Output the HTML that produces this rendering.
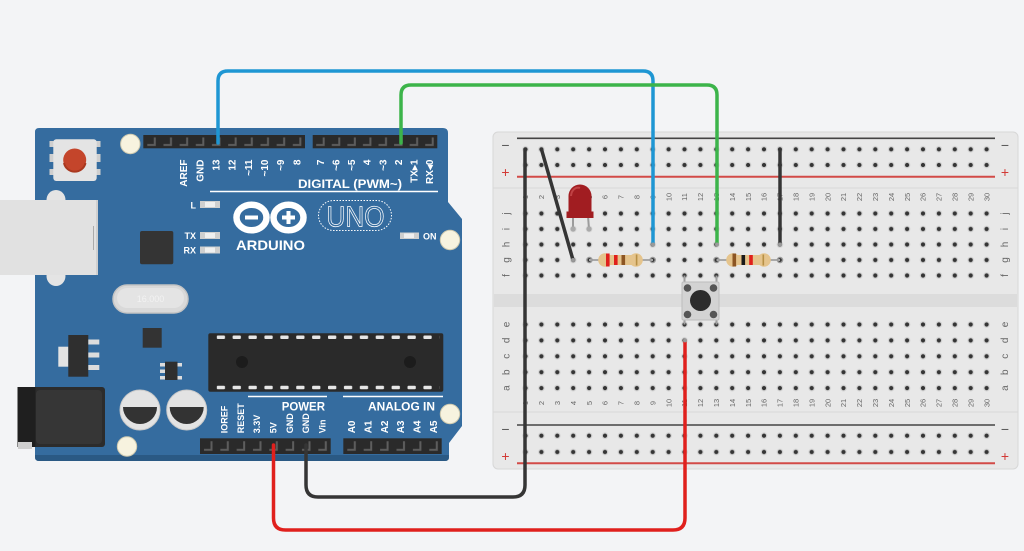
<!DOCTYPE html>
<html><head><meta charset="utf-8"><style>
html,body{margin:0;padding:0;background:#f3f4f6;}
svg{display:block;font-family:"Liberation Sans",sans-serif;}
</style></head><body>
<svg width="1024" height="551" viewBox="0 0 1024 551" xmlns="http://www.w3.org/2000/svg">
<defs>
<pattern id="p1" x="517.55" y="141.45" width="15.9" height="15.7" patternUnits="userSpaceOnUse"><circle cx="7.95" cy="7.85" r="3.3" fill="#d2d2d2"/><circle cx="7.95" cy="7.85" r="2.1" fill="#353535"/></pattern>
<pattern id="p2" x="517.55" y="205.75" width="15.9" height="15.5" patternUnits="userSpaceOnUse"><circle cx="7.95" cy="7.75" r="3.3" fill="#d2d2d2"/><circle cx="7.95" cy="7.75" r="2.1" fill="#353535"/></pattern>
<pattern id="p3" x="517.55" y="316.55" width="15.9" height="15.9" patternUnits="userSpaceOnUse"><circle cx="7.95" cy="7.95" r="3.3" fill="#d2d2d2"/><circle cx="7.95" cy="7.95" r="2.1" fill="#353535"/></pattern>
<pattern id="p4" x="517.55" y="427.55" width="15.9" height="16.3" patternUnits="userSpaceOnUse"><circle cx="7.95" cy="8.15" r="3.3" fill="#d2d2d2"/><circle cx="7.95" cy="8.15" r="2.1" fill="#353535"/></pattern>
<pattern id="h1" x="143.3" y="135" width="16.17" height="13.3" patternUnits="userSpaceOnUse"><rect width="16.17" height="13.3" fill="#2a2a2a"/><path d="M10.5 2.5 h2 v8.5 h-8.5 v-2 h6.5z" fill="#5e5e5e"/></pattern>
<pattern id="h2" x="312.7" y="135" width="15.575" height="13.3" patternUnits="userSpaceOnUse"><rect width="15.575" height="13.3" fill="#2a2a2a"/><path d="M10 2.5 h2 v8.5 h-8.5 v-2 h6.5z" fill="#5e5e5e"/></pattern>
<pattern id="h3" x="200" y="438.3" width="16.33" height="15.7" patternUnits="userSpaceOnUse"><rect width="16.33" height="15.7" fill="#2a2a2a"/><path d="M10.5 3 h2 v9.5 h-8.5 v-2 h6.5z" fill="#5e5e5e"/></pattern>
<pattern id="h4" x="343.3" y="438.3" width="16.4" height="15.7" patternUnits="userSpaceOnUse"><rect width="16.4" height="15.7" fill="#2a2a2a"/><path d="M10.5 3 h2 v9.5 h-8.5 v-2 h6.5z" fill="#5e5e5e"/></pattern>
<pattern id="cp" x="216.7" y="0" width="15.9" height="551" patternUnits="userSpaceOnUse"><rect x="0" y="335.5" width="8.3" height="3.5" rx="1" fill="#e6e6e6"/><rect x="0" y="385.8" width="8.3" height="3.5" rx="1" fill="#e6e6e6"/></pattern>
</defs>

<rect width="1024" height="551" fill="#f3f4f6"/>

<!-- ============ BREADBOARD ============ -->
<rect x="493" y="132" width="525" height="337" rx="5" fill="#e8e8e8" stroke="#d7d7d7"/>
<line x1="493" y1="188" x2="1018" y2="188" stroke="#d9d9d9"/>
<line x1="493" y1="412" x2="1018" y2="412" stroke="#d9d9d9"/>
<rect x="494" y="294" width="523" height="13" fill="#dcdcdc"/>
<line x1="517" y1="138.3" x2="995" y2="138.3" stroke="#444" stroke-width="1.6"/>
<line x1="517" y1="176.7" x2="995" y2="176.7" stroke="#d24a47" stroke-width="2"/>
<line x1="517" y1="425" x2="995" y2="425" stroke="#444" stroke-width="1.6"/>
<line x1="517" y1="463.3" x2="995" y2="463.3" stroke="#d24a47" stroke-width="2"/>
<g font-size="14" text-anchor="middle">
<text x="505.5" y="150" fill="#555">−</text>
<text x="505.5" y="177" fill="#d23a36">+</text>
<text x="1005" y="150" fill="#555">−</text>
<text x="1005" y="177" fill="#d23a36">+</text>
<text x="505.5" y="434" fill="#555">−</text>
<text x="505.5" y="461" fill="#d23a36">+</text>
<text x="1005" y="434" fill="#555">−</text>
<text x="1005" y="461" fill="#d23a36">+</text>
</g>
<rect x="517.55" y="141.45" width="477" height="31.4" fill="url(#p1)"/>
<rect x="517.55" y="205.75" width="477" height="77.5" fill="url(#p2)"/>
<rect x="517.55" y="316.55" width="477" height="79.5" fill="url(#p3)"/>
<rect x="517.55" y="427.55" width="477" height="32.6" fill="url(#p4)"/>

<!-- row letters -->
<g transform="rotate(-90)" font-size="10" fill="#666" text-anchor="middle">
<text><tspan x="-213.5" y="509.5">j</tspan><tspan x="-229" y="509.5">i</tspan><tspan x="-244.5" y="509.5">h</tspan><tspan x="-260" y="509.5">g</tspan><tspan x="-275.5" y="509.5">f</tspan><tspan x="-324.5" y="509.5">e</tspan><tspan x="-340.4" y="509.5">d</tspan><tspan x="-356.3" y="509.5">c</tspan><tspan x="-372.2" y="509.5">b</tspan><tspan x="-388.1" y="509.5">a</tspan></text>
<text><tspan x="-213.5" y="1008">j</tspan><tspan x="-229" y="1008">i</tspan><tspan x="-244.5" y="1008">h</tspan><tspan x="-260" y="1008">g</tspan><tspan x="-275.5" y="1008">f</tspan><tspan x="-324.5" y="1008">e</tspan><tspan x="-340.4" y="1008">d</tspan><tspan x="-356.3" y="1008">c</tspan><tspan x="-372.2" y="1008">b</tspan><tspan x="-388.1" y="1008">a</tspan></text>
</g>
<!-- column numbers -->
<g font-size="7.5" fill="#666" text-anchor="middle">
<g transform="translate(0,197) rotate(-90)"><text><tspan x="0" y="528.2">1</tspan><tspan x="0" y="544.1">2</tspan><tspan x="0" y="560">3</tspan><tspan x="0" y="575.9">4</tspan><tspan x="0" y="591.8">5</tspan><tspan x="0" y="607.7">6</tspan><tspan x="0" y="623.6">7</tspan><tspan x="0" y="639.5">8</tspan><tspan x="0" y="655.4">9</tspan><tspan x="0" y="671.3">10</tspan><tspan x="0" y="687.2">11</tspan><tspan x="0" y="703.1">12</tspan><tspan x="0" y="719">13</tspan><tspan x="0" y="734.9">14</tspan><tspan x="0" y="750.8">15</tspan><tspan x="0" y="766.7">16</tspan><tspan x="0" y="782.6">17</tspan><tspan x="0" y="798.5">18</tspan><tspan x="0" y="814.4">19</tspan><tspan x="0" y="830.3">20</tspan><tspan x="0" y="846.2">21</tspan><tspan x="0" y="862.1">22</tspan><tspan x="0" y="878">23</tspan><tspan x="0" y="893.9">24</tspan><tspan x="0" y="909.8">25</tspan><tspan x="0" y="925.7">26</tspan><tspan x="0" y="941.6">27</tspan><tspan x="0" y="957.5">28</tspan><tspan x="0" y="973.4">29</tspan><tspan x="0" y="989.3">30</tspan></text></g>
<g transform="translate(0,403) rotate(-90)"><text><tspan x="0" y="528.2">1</tspan><tspan x="0" y="544.1">2</tspan><tspan x="0" y="560">3</tspan><tspan x="0" y="575.9">4</tspan><tspan x="0" y="591.8">5</tspan><tspan x="0" y="607.7">6</tspan><tspan x="0" y="623.6">7</tspan><tspan x="0" y="639.5">8</tspan><tspan x="0" y="655.4">9</tspan><tspan x="0" y="671.3">10</tspan><tspan x="0" y="687.2">11</tspan><tspan x="0" y="703.1">12</tspan><tspan x="0" y="719">13</tspan><tspan x="0" y="734.9">14</tspan><tspan x="0" y="750.8">15</tspan><tspan x="0" y="766.7">16</tspan><tspan x="0" y="782.6">17</tspan><tspan x="0" y="798.5">18</tspan><tspan x="0" y="814.4">19</tspan><tspan x="0" y="830.3">20</tspan><tspan x="0" y="846.2">21</tspan><tspan x="0" y="862.1">22</tspan><tspan x="0" y="878">23</tspan><tspan x="0" y="893.9">24</tspan><tspan x="0" y="909.8">25</tspan><tspan x="0" y="925.7">26</tspan><tspan x="0" y="941.6">27</tspan><tspan x="0" y="957.5">28</tspan><tspan x="0" y="973.4">29</tspan><tspan x="0" y="989.3">30</tspan></text></g>
</g>

<!-- LED -->
<line x1="573" y1="216" x2="573" y2="229" stroke="#9c9c9c" stroke-width="2"/>
<line x1="588" y1="216" x2="589" y2="229" stroke="#9c9c9c" stroke-width="2"/>
<circle cx="573" cy="229" r="2.5" fill="#aaa"/>
<circle cx="589" cy="229" r="2.5" fill="#aaa"/>
<path d="M566.5 218 L566.5 211.5 L568.5 211.5 L568.5 196 A11.5 11.5 0 0 1 591.5 196 L591.5 211.5 L593.5 211.5 L593.5 218 Z" fill="#a11d21"/>
<path d="M571 196 A7 9 0 0 1 580 188" stroke="#c04244" stroke-width="2" fill="none"/>

<!-- Resistor 1 -->
<line x1="589" y1="260" x2="653" y2="260" stroke="#a8a8a8" stroke-width="2"/>
<circle cx="589.5" cy="260" r="2.6" fill="none" stroke="#9a9a9a" stroke-width="1.3"/>
<circle cx="652.7" cy="260" r="2.6" fill="none" stroke="#9a9a9a" stroke-width="1.3"/>
<circle cx="605" cy="260" r="6.8" fill="#e5c48c"/>
<circle cx="636" cy="260" r="6.8" fill="#e5c48c"/>
<rect x="605" y="255" width="31" height="10" fill="#e5c48c"/>
<rect x="606" y="253.5" width="3.6" height="13" fill="#e0201c"/>
<rect x="614" y="255" width="3.6" height="10" fill="#e0201c"/>
<rect x="621.5" y="255" width="3.6" height="10" fill="#8c5523"/>
<rect x="635.8" y="254.5" width="1.6" height="11" fill="#b79045"/>

<!-- Resistor 2 -->
<line x1="716.5" y1="260" x2="780" y2="260" stroke="#a8a8a8" stroke-width="2"/>
<circle cx="716.5" cy="260" r="2.6" fill="none" stroke="#9a9a9a" stroke-width="1.3"/>
<circle cx="780" cy="260" r="2.6" fill="none" stroke="#9a9a9a" stroke-width="1.3"/>
<circle cx="733" cy="260" r="6.8" fill="#e5c48c"/>
<circle cx="764" cy="260" r="6.8" fill="#e5c48c"/>
<rect x="733" y="255" width="31" height="10" fill="#e5c48c"/>
<rect x="732.5" y="253.5" width="3.6" height="13" fill="#8c5523"/>
<rect x="741.5" y="255" width="3.6" height="10" fill="#1a1a1a"/>
<rect x="749.2" y="255" width="3.6" height="10" fill="#e0201c"/>
<rect x="762.5" y="254.5" width="1.6" height="11" fill="#b79045"/>

<!-- Push button -->
<line x1="684.5" y1="275.5" x2="684.5" y2="283" stroke="#a0a0a0" stroke-width="2"/>
<line x1="716.5" y1="275.5" x2="716.5" y2="283" stroke="#a0a0a0" stroke-width="2"/>
<line x1="684.5" y1="319" x2="684.5" y2="324.5" stroke="#a0a0a0" stroke-width="2"/>
<line x1="716.5" y1="319" x2="716.5" y2="324.5" stroke="#a0a0a0" stroke-width="2"/>
<rect x="682" y="282" width="37" height="38" rx="1.5" fill="#d3d3d3" stroke="#bdbdbd"/>
<circle cx="687.5" cy="288" r="3.8" fill="#555"/>
<circle cx="713.5" cy="288" r="3.8" fill="#555"/>
<circle cx="687.5" cy="314.5" r="3.8" fill="#555"/>
<circle cx="713.5" cy="314.5" r="3.8" fill="#555"/>
<circle cx="700.5" cy="300.5" r="10.5" fill="#2c2c2c"/>

<!-- ============ ARDUINO ============ -->
<ellipse cx="56" cy="200" rx="9.5" ry="10" fill="#e4e4e4"/>
<ellipse cx="56" cy="276" rx="9.5" ry="10" fill="#e4e4e4"/>
<path d="M39 128 L443 128 Q448 128 448 133 L448 202 L462 219 L462 426 L449 443 L449 457 Q449 461 445 461 L39 461 Q35 461 35 457 L35 132 Q35 128 39 128 Z" fill="#356c9f"/>
<path d="M35 455 L449 455 L449 457 Q449 461 445 461 L39 461 Q35 461 35 457 Z" fill="#2a5984"/>

<!-- USB -->
<ellipse cx="56" cy="200" rx="9.5" ry="10" fill="#e4e4e4"/>
<ellipse cx="56" cy="276" rx="9.5" ry="10" fill="#e4e4e4"/>
<rect x="0" y="200" width="98" height="75" fill="#e1e1e1"/>
<rect x="96" y="200" width="2" height="75" fill="#cfcfcf"/>
<line x1="93.5" y1="226" x2="93.5" y2="250" stroke="#aaa" stroke-width="1"/>

<!-- reset button -->
<rect x="49.5" y="141" width="4" height="6" fill="#cfcfcf"/>
<rect x="49.5" y="154" width="4" height="8" fill="#cfcfcf"/>
<rect x="49.5" y="169" width="4" height="6" fill="#cfcfcf"/>
<rect x="96.5" y="141" width="4" height="6" fill="#cfcfcf"/>
<rect x="96.5" y="154" width="4" height="8" fill="#cfcfcf"/>
<rect x="96.5" y="169" width="4" height="6" fill="#cfcfcf"/>
<rect x="53.3" y="139.3" width="43.4" height="41.7" rx="3" fill="#e4e4e4"/>
<circle cx="74.7" cy="160" r="11.5" fill="#c4452b"/>
<path d="M64 163 A11 11 0 0 0 85.5 163" stroke="#a9381f" stroke-width="2" fill="none"/>

<!-- holes -->
<circle cx="130.3" cy="144" r="9.7" fill="#f7f3df" stroke="#cfcab0" stroke-width="1"/>
<circle cx="450" cy="240" r="9.7" fill="#f7f3df" stroke="#cfcab0" stroke-width="1"/>
<circle cx="450" cy="414" r="9.7" fill="#f7f3df" stroke="#cfcab0" stroke-width="1"/>
<circle cx="127" cy="446.5" r="9.7" fill="#f7f3df" stroke="#cfcab0" stroke-width="1"/>

<!-- top headers -->
<rect x="143.3" y="135" width="161.7" height="13.3" fill="url(#h1)"/>
<rect x="312.7" y="135" width="124.6" height="13.3" fill="url(#h2)"/>

<!-- top header labels -->
<g transform="translate(0,159.5) rotate(-90)" font-size="10" font-weight="bold" fill="#fff" text-anchor="end">
<text><tspan x="0" y="187.2">AREF</tspan><tspan x="0" y="203.4">GND</tspan><tspan x="0" y="219.6">13</tspan><tspan x="0" y="235.7">12</tspan><tspan x="0" y="251.9">~11</tspan><tspan x="0" y="268">~10</tspan><tspan x="0" y="284.2">~9</tspan><tspan x="0" y="300.4">8</tspan><tspan x="0" y="324">7</tspan><tspan x="0" y="339.6">~6</tspan><tspan x="0" y="355.1">~5</tspan><tspan x="0" y="370.7">4</tspan><tspan x="0" y="386.3">~3</tspan><tspan x="0" y="401.8">2</tspan><tspan x="0" y="417.4">TX▸1</tspan><tspan x="0" y="433">RX◂0</tspan></text>
</g>
<text x="298" y="188" font-size="12" font-weight="bold" fill="#fff" textLength="104" lengthAdjust="spacingAndGlyphs">DIGITAL (PWM~)</text>
<line x1="210" y1="191.5" x2="438" y2="191.5" stroke="#fff" stroke-width="1.5"/>

<!-- L TX RX LEDs -->
<g font-size="9" font-weight="bold" fill="#fff" text-anchor="end">
<text x="196" y="208.5">L</text>
<text x="196" y="239">TX</text>
<text x="196" y="253.5">RX</text>
</g>
<rect x="200" y="201" width="20" height="7" fill="#cfcfcf"/><rect x="205" y="202" width="10" height="5" fill="#f0f0f0"/>
<rect x="200" y="232" width="20" height="7" fill="#cfcfcf"/><rect x="205" y="233" width="10" height="5" fill="#f0f0f0"/>
<rect x="200" y="246.5" width="20" height="7" fill="#cfcfcf"/><rect x="205" y="247.5" width="10" height="5" fill="#f0f0f0"/>
<rect x="400" y="232.5" width="19" height="6.5" fill="#cfcfcf"/><rect x="404" y="233.5" width="10" height="4.5" fill="#f0f0f0"/>
<text x="423" y="239.5" font-size="9" font-weight="bold" fill="#fff">ON</text>

<!-- logo -->
<ellipse cx="251.5" cy="217.5" rx="15" ry="12.8" fill="none" stroke="#fff" stroke-width="6.5"/>
<ellipse cx="288.5" cy="217.5" rx="15" ry="12.8" fill="none" stroke="#fff" stroke-width="6.5"/>
<rect x="245" y="215.5" width="13" height="4" fill="#fff"/>
<rect x="282" y="215.5" width="13" height="4" fill="#fff"/>
<rect x="286.5" y="211" width="4" height="13" fill="#fff"/>
<text x="236" y="250" font-size="14" font-weight="bold" fill="#fff" textLength="69" lengthAdjust="spacingAndGlyphs">ARDUINO</text>
<rect x="318.5" y="200.5" width="73" height="30" rx="15" fill="none" stroke="#fff" stroke-width="1" stroke-dasharray="1.5 1.5"/>
<text x="326.5" y="226.5" font-size="29" fill="none" stroke="#fff" stroke-width="0.75" textLength="58" lengthAdjust="spacingAndGlyphs">UNO</text>

<!-- chip near LEDs -->
<rect x="140" y="231" width="33.3" height="33.3" rx="2" fill="#343434"/>

<!-- crystal -->
<rect x="113" y="285" width="75" height="28" rx="14" fill="#d9d9d9" stroke="#c4c4c4" stroke-width="1.5"/>
<rect x="117" y="288" width="67" height="20" rx="10" fill="#e4e4e4"/>
<text x="150.5" y="302" font-size="9" fill="#f2f2f2" text-anchor="middle">16.000</text>

<!-- small chips -->
<rect x="142.7" y="328" width="19" height="19.7" fill="#333"/>
<rect x="58.3" y="346.7" width="10" height="20" fill="#e3e3e3"/>
<rect x="68.3" y="335" width="20" height="41.7" fill="#2f2f2f"/>
<rect x="88.3" y="339.5" width="11" height="5" fill="#dcdcdc"/>
<rect x="88.3" y="352.5" width="11" height="5" fill="#dcdcdc"/>
<rect x="88.3" y="365" width="11" height="5" fill="#dcdcdc"/>
<rect x="160" y="363" width="5" height="3.5" fill="#ddd"/><rect x="160" y="369.5" width="5" height="3.5" fill="#ddd"/><rect x="160" y="376" width="5" height="3.5" fill="#ddd"/>
<rect x="177" y="363" width="5" height="3.5" fill="#ddd"/><rect x="177" y="376" width="5" height="3.5" fill="#ddd"/>
<rect x="165" y="361.7" width="12.5" height="18.3" fill="#2f2f2f"/>

<!-- power jack -->
<rect x="17.5" y="387" width="87.5" height="60" rx="3" fill="#2c2c2c"/>
<rect x="36" y="390" width="66" height="54" rx="4" fill="#363636"/>
<rect x="17.5" y="387" width="18" height="60" fill="#1f1f1f"/>
<rect x="18" y="442" width="14" height="7" fill="#cfcfcf"/>

<!-- capacitors -->
<circle cx="140" cy="410" r="20" fill="#e3e3e3" stroke="#cacaca"/>
<path d="M123 407 A17 17 0 0 0 157 407 Z" fill="#333"/>
<circle cx="186.7" cy="410" r="20" fill="#e3e3e3" stroke="#cacaca"/>
<path d="M169.7 407 A17 17 0 0 0 203.7 407 Z" fill="#333"/>

<!-- ATmega -->
<rect x="208.3" y="333.3" width="235" height="58.4" rx="2" fill="#2a2a2a"/>
<rect x="216.7" y="333" width="222.6" height="60" fill="url(#cp)"/>
<circle cx="242" cy="362" r="6" fill="#1c1c1c"/>
<circle cx="410" cy="362" r="6" fill="#1c1c1c"/>

<!-- power / analog labels -->
<line x1="248" y1="396.5" x2="327" y2="396.5" stroke="#fff" stroke-width="1.5"/>
<line x1="343" y1="396.5" x2="443" y2="396.5" stroke="#fff" stroke-width="1.5"/>
<text x="281.7" y="410.5" font-size="12" font-weight="bold" fill="#fff" textLength="43.3" lengthAdjust="spacingAndGlyphs">POWER</text>
<text x="368" y="410.5" font-size="12" font-weight="bold" fill="#fff" textLength="67" lengthAdjust="spacingAndGlyphs">ANALOG IN</text>
<g transform="translate(0,433.3) rotate(-90)" font-weight="bold" fill="#fff">
<text font-size="9"><tspan x="0" y="227.7">IOREF</tspan><tspan x="0" y="244">RESET</tspan><tspan x="0" y="260.2">3.3V</tspan><tspan x="0" y="276.6">5V</tspan><tspan x="0" y="292.9">GND</tspan><tspan x="0" y="309.2">GND</tspan><tspan x="0" y="325.5">Vin</tspan></text>
<text font-size="10"><tspan x="0" y="355">A0</tspan><tspan x="0" y="371.4">A1</tspan><tspan x="0" y="387.8">A2</tspan><tspan x="0" y="404.2">A3</tspan><tspan x="0" y="420.6">A4</tspan><tspan x="0" y="437">A5</tspan></text>
</g>

<!-- bottom headers -->
<rect x="200" y="438.3" width="130.7" height="15.7" fill="url(#h3)"/>
<rect x="343.3" y="438.3" width="98.4" height="15.7" fill="url(#h4)"/>

<!-- ============ WIRES ============ -->
<g fill="none" stroke-width="3.5" stroke-linecap="round" stroke-linejoin="round">
<path d="M218 143 L218 81 Q218 71 228 71 L643 71 Q653 71 653 81 L653 244.5" stroke="#1e96d3"/>
<path d="M401 143 L401 95 Q401 85 411 85 L707 85 Q717 85 717 95 L717 244.5" stroke="#3cb44a"/>
<path d="M306 445 L306 485 Q306 497 318 497 L513 497 Q525 497 525 485 L525 149.3" stroke="#353535"/>
<path d="M273.5 445 L273.5 518 Q273.5 530 285.5 530 L673 530 Q685 530 685 518 L685 340.4" stroke="#e0201d"/>
<path d="M541.5 149.3 L573 260" stroke="#353535"/>
<path d="M780 149.3 L780 244.5" stroke="#353535"/>
</g>
<g fill="#9a9a9a">
<circle cx="653" cy="244.5" r="2"/><circle cx="717" cy="244.5" r="2"/><circle cx="573" cy="260" r="2"/><circle cx="780" cy="244.5" r="2"/><circle cx="685" cy="340.4" r="2"/>
</g>
</svg>
</body></html>
